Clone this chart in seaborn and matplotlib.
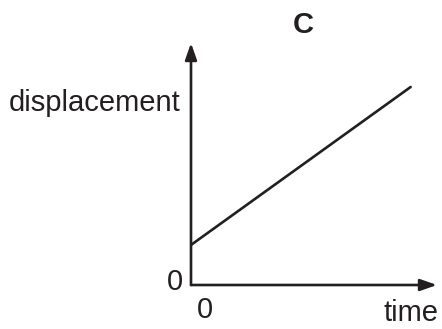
import matplotlib
matplotlib.use('Agg')
import matplotlib.pyplot as plt
import seaborn as sns
import pandas as pd

# line data (arbitrary units)
time = [0, 10]
displacement = [1.82, 9.0]
x_max = 11.2
y_max = 11.0

sns.set_style('white')
plt.rcParams['font.family'] = ['Liberation Sans', 'DejaVu Sans']

df = pd.DataFrame({'time': time, 'displacement': displacement})

fig = plt.figure(figsize=(4.42, 3.29), dpi=100)
ax = fig.add_axes([191 / 442, 44 / 329, 246 / 442, 242 / 329])
sns.lineplot(data=df, x='time', y='displacement', ax=ax, color='#231f20', linewidth=1.9)
ax.set_xlim(0, x_max)
ax.set_ylim(0, y_max)
ax.set_axis_off()

arrow = dict(arrowstyle='-|>,head_length=1.0,head_width=0.35', color='#231f20', lw=1.9,
             shrinkA=0, shrinkB=0)
ax.annotate('', xy=(1, 0), xytext=(0, 0), xycoords='axes fraction', arrowprops=arrow)
ax.annotate('', xy=(0, 1), xytext=(0, 0), xycoords='axes fraction', arrowprops=arrow)

txt = dict(color='#231f20', fontsize=21)
fig.text(95 / 442, 1 - 103 / 329, 'displacement', ha='center', va='center', **txt)
fig.text(303 / 442, 1 - 25 / 329, 'C', ha='center', va='center', fontweight='bold', **txt)
fig.text(175 / 442, 1 - 282 / 329, '0', ha='center', va='center', **txt)
fig.text(205 / 442, 1 - 310 / 329, '0', ha='center', va='center', **txt)
fig.text(411 / 442, 1 - 313 / 329, 'time', ha='center', va='center', **txt)

fig.savefig('out.png', dpi=100)
